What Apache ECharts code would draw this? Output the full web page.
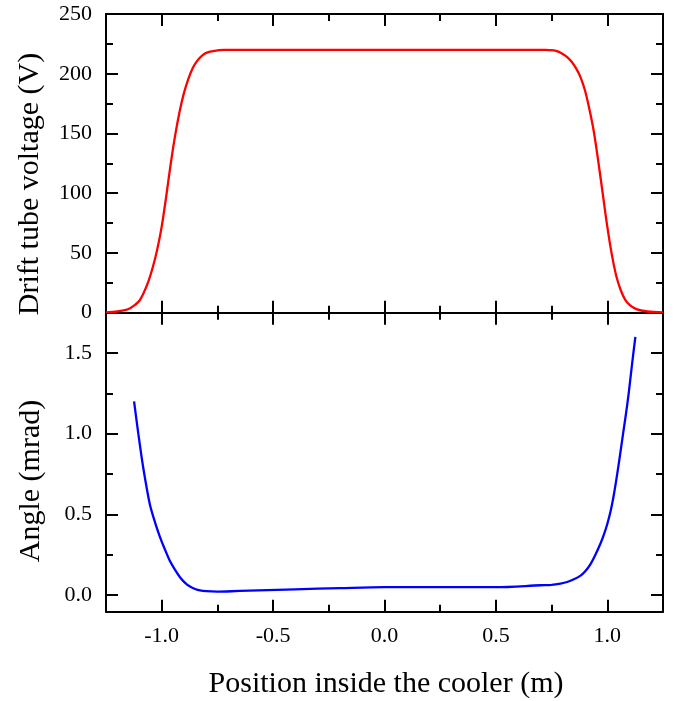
<!DOCTYPE html>
<html>
<head>
<meta charset="utf-8">
<script src="https://cdn.jsdelivr.net/npm/echarts@6/dist/echarts.min.js"></script>
<style>
html,body{margin:0;padding:0;background:#fff;}
#c{width:677px;height:701px;}
</style>
</head>
<body>
<div id="c"></div>
<script>
// ---- data ----
var xTicksMajor = [-1.0, -0.5, 0.0, 0.5, 1.0];
var xTicksMinor = [-0.75, -0.25, 0.25, 0.75];
var voltTicksMajor = [0, 50, 100, 150, 200, 250];
var voltTicksMinor = [25, 75, 125, 175, 225];
var angleTicksMajor = [0.0, 0.5, 1.0, 1.5];
var angleTicksMinor = [0.25, 0.75, 1.25];

var voltageX = [-1.25, -1.20, -1.16, -1.14, -1.12, -1.10, -1.08, -1.06, -1.04, -1.02, -1.00, -0.98, -0.96, -0.94, -0.92, -0.90, -0.88, -0.86, -0.84, -0.82, -0.80, -0.77, -0.72, 0.0, 0.72, 0.76, 0.78, 0.80, 0.82, 0.84, 0.86, 0.88, 0.90, 0.92, 0.94, 0.96, 0.98, 1.00, 1.02, 1.04, 1.06, 1.08, 1.10, 1.13, 1.18, 1.25];
var voltageY = [0.3, 1.0, 2.3, 4, 6.5, 10, 17, 26, 38, 53, 72, 97, 124, 148, 168, 184, 196, 205, 211, 215, 217.5, 219, 220, 220, 220, 219.5, 218.5, 216.5, 214, 210, 204.5, 197, 186, 170, 151, 126, 99, 72, 49, 31, 19, 11, 6.5, 3, 1, 0.3];

var angleX = [-1.124, -1.105, -1.083, -1.053, -1.03, -1.008, -0.985, -0.963, -0.94, -0.918, -0.895, -0.873, -0.85, -0.828, -0.80, -0.753, -0.65, -0.40, -0.20, 0.0, 0.50, 0.70, 0.75, 0.79, 0.82, 0.85, 0.88, 0.90, 0.924, 0.945, 0.969, 0.985, 1.00, 1.015, 1.028, 1.04, 1.051, 1.062, 1.073, 1.085, 1.096, 1.111, 1.126];
var angleY = [1.20, 1.00, 0.79, 0.56, 0.45, 0.36, 0.28, 0.21, 0.155, 0.11, 0.075, 0.052, 0.037, 0.028, 0.023, 0.020, 0.025, 0.035, 0.042, 0.048, 0.048, 0.060, 0.062, 0.070, 0.08, 0.097, 0.12, 0.145, 0.19, 0.245, 0.317, 0.375, 0.44, 0.52, 0.61, 0.71, 0.81, 0.915, 1.02, 1.135, 1.25, 1.43, 1.60];

function zip(a, b) { return a.map(function (v, i) { return [v, b[i]]; }); }

var FONT = 'Liberation Serif';
var BLACK = '#000';

function makeAxis(gridIndex, position, min, max, ticks, tickLen, showLine, labels, fmt) {
  return {
    type: 'value',
    gridIndex: gridIndex,
    position: position,
    min: min,
    max: max,
    axisLine: { show: showLine, onZero: false, lineStyle: { color: BLACK, width: 2 } },
    axisTick: { show: true, inside: true, length: tickLen, customValues: ticks, lineStyle: { color: BLACK, width: 2 } },
    axisLabel: labels ? {
      show: true, customValues: ticks, margin: 14,
      color: BLACK, fontFamily: FONT, fontSize: 22,
      formatter: fmt
    } : { show: false },
    splitLine: { show: false },
    minorTick: { show: false }
  };
}

function fmt1(v) { return Number(v).toFixed(1); }
function fmt0(v) { return String(Math.round(v)); }

var xAxes = [];
var yAxes = [];
// grid 0 (top)
xAxes.push(makeAxis(0, 'bottom', -1.25, 1.25, xTicksMajor, 12, true, false));
xAxes.push(makeAxis(0, 'bottom', -1.25, 1.25, xTicksMinor, 7, false, false));
xAxes.push(makeAxis(0, 'top', -1.25, 1.25, xTicksMajor, 12, true, false));
xAxes.push(makeAxis(0, 'top', -1.25, 1.25, xTicksMinor, 7, false, false));
yAxes.push(makeAxis(0, 'left', 0, 250, voltTicksMajor, 12, true, true, fmt0));
yAxes.push(makeAxis(0, 'left', 0, 250, voltTicksMinor, 7, false, false));
yAxes.push(makeAxis(0, 'right', 0, 250, voltTicksMajor, 12, true, false));
yAxes.push(makeAxis(0, 'right', 0, 250, voltTicksMinor, 7, false, false));
// grid 1 (bottom)
xAxes.push(makeAxis(1, 'bottom', -1.25, 1.25, xTicksMajor, 12, true, true, fmt1));
xAxes.push(makeAxis(1, 'bottom', -1.25, 1.25, xTicksMinor, 7, false, false));
xAxes.push(makeAxis(1, 'top', -1.25, 1.25, xTicksMajor, 12, true, false));
xAxes.push(makeAxis(1, 'top', -1.25, 1.25, xTicksMinor, 7, false, false));
yAxes.push(makeAxis(1, 'left', -0.104, 1.75, angleTicksMajor, 12, true, true, fmt1));
yAxes.push(makeAxis(1, 'left', -0.104, 1.75, angleTicksMinor, 7, false, false));
yAxes.push(makeAxis(1, 'right', -0.104, 1.75, angleTicksMajor, 12, true, false));
yAxes.push(makeAxis(1, 'right', -0.104, 1.75, angleTicksMinor, 7, false, false));

var chart = echarts.init(document.getElementById('c'), null, { renderer: 'canvas' });
chart.setOption({
  backgroundColor: '#fff',
  animation: false,
  grid: [
    { left: 106, top: 14, width: 557, height: 298.7, outerBoundsMode: 'none' },
    { left: 106, top: 312.7, width: 557, height: 299, outerBoundsMode: 'none' }
  ],
  xAxis: xAxes,
  yAxis: yAxes,
  series: [
    {
      type: 'line', xAxisIndex: 0, yAxisIndex: 0,
      data: zip(voltageX, voltageY),
      smooth: 0.3, showSymbol: false, symbol: 'none',
      lineStyle: { color: '#ff0000', width: 2.3 },
      z: 1
    },
    {
      type: 'line', xAxisIndex: 4, yAxisIndex: 4,
      data: zip(angleX, angleY),
      smooth: 0.3, showSymbol: false, symbol: 'none',
      lineStyle: { color: '#0000ff', width: 2.3 },
      z: 1
    }
  ],
  graphic: [
    {
      type: 'text', x: 30, y: 184, rotation: Math.PI / 2,
      style: { text: 'Drift tube voltage (V)', fontFamily: FONT, fontSize: 30, fill: BLACK, align: 'center', verticalAlign: 'middle' }
    },
    {
      type: 'text', x: 31, y: 481, rotation: Math.PI / 2,
      style: { text: 'Angle (mrad)', fontFamily: FONT, fontSize: 30, fill: BLACK, align: 'center', verticalAlign: 'middle' }
    },
    {
      type: 'text', x: 386, y: 684,
      style: { text: 'Position inside the cooler (m)', fontFamily: FONT, fontSize: 30, fill: BLACK, align: 'center', verticalAlign: 'middle' }
    }
  ]
});
</script>
</body>
</html>
